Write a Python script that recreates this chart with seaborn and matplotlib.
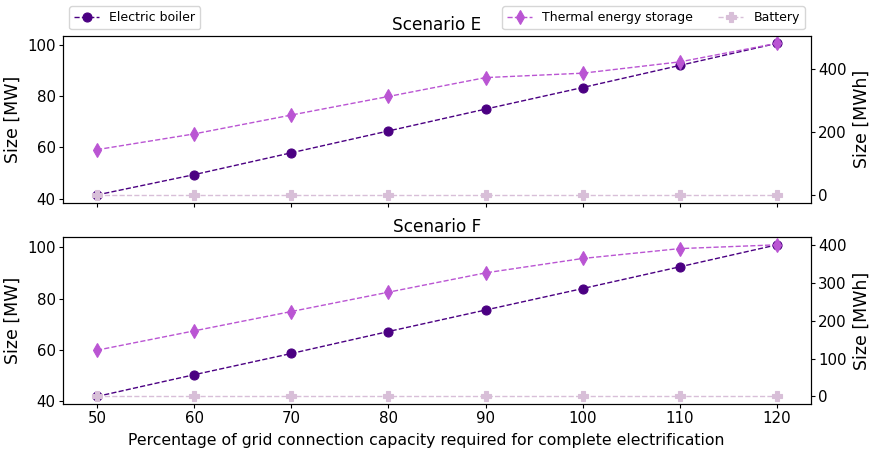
import matplotlib
matplotlib.use("Agg")
import matplotlib.pyplot as plt
import seaborn as sns
import pandas as pd

x_pct = [50, 60, 70, 80, 90, 100, 110, 120]

boiler_E = [41.5, 49.4, 57.9, 66.4, 74.9, 83.3, 91.9, 100.5]
tes_E = [144, 194, 254, 313, 373, 387, 423, 482]
battery_E = [0, 0, 0, 0, 0, 0, 0, 0]

boiler_F = [41.7, 50.2, 58.5, 67.1, 75.5, 83.9, 92.4, 101.0]
tes_F = [122, 173, 224, 275, 326, 364, 390, 400]
battery_F = [0, 0, 0, 0, 0, 0, 0, 0]

titles = ["Scenario E", "Scenario F"]

C_BOILER = "#4B0082"
C_TES = "#BA55D3"
C_BAT = "#D8BFD8"

plt.rcParams['font.family'] = ['DejaVu Sans']

fig, axes = plt.subplots(2, 1, figsize=(8.79, 4.55), dpi=100, sharex=True)
fig.subplots_adjust(left=0.0717, right=0.9226, top=0.9215, bottom=0.112, hspace=0.208)

data = [(boiler_E, tes_E, battery_E), (boiler_F, tes_F, battery_F)]

for i, (ax, (b, t, bat)) in enumerate(zip(axes, data)):
    df = pd.DataFrame({"x": x_pct, "boiler": b, "tes": t, "bat": bat})
    sns.lineplot(data=df, x="x", y="boiler", ax=ax, color=C_BOILER, marker="o",
                 linestyle="--", linewidth=1, markersize=6.5, markeredgecolor=C_BOILER,
                 markeredgewidth=0.8, label="Electric boiler")
    ax2 = ax.twinx()
    sns.lineplot(data=df, x="x", y="tes", ax=ax2, color=C_TES, marker="d",
                 linestyle="--", linewidth=1, markersize=7.5, markeredgecolor=C_TES,
                 markeredgewidth=0.8, label="Thermal energy storage")
    sns.lineplot(data=df, x="x", y="bat", ax=ax2, color=C_BAT, marker="P",
                 linestyle="--", linewidth=1, markersize=7, markeredgecolor=C_BAT,
                 markeredgewidth=0.8, label="Battery")
    ax.set_title(titles[i], fontsize=12.2, pad=4)
    ax.set_ylabel("Size [MW]", fontsize=12.5, labelpad=4)
    ax2.set_ylabel("Size [MWh]", fontsize=12.5, labelpad=4)
    ax.tick_params(labelsize=10.8, pad=2, length=3.2)
    ax2.tick_params(labelsize=10.8, pad=2, length=3.2)
    if i == 0:
        ax.legend(loc="lower left", bbox_to_anchor=(0, 1), fontsize=9)
        ax2.legend(loc="lower right", bbox_to_anchor=(1, 1), ncol=2, fontsize=9)
    else:
        ax.get_legend().remove()
        ax2.get_legend().remove()
    ax.set_xlabel("")

axes[1].set_xticks(x_pct)
axes[1].set_xlabel("Percentage of grid connection capacity required for complete electrification",
                   fontsize=11.3, labelpad=5)
axes[1].xaxis.label.set_x(0.485)

fig.savefig("out.png", dpi=100)
